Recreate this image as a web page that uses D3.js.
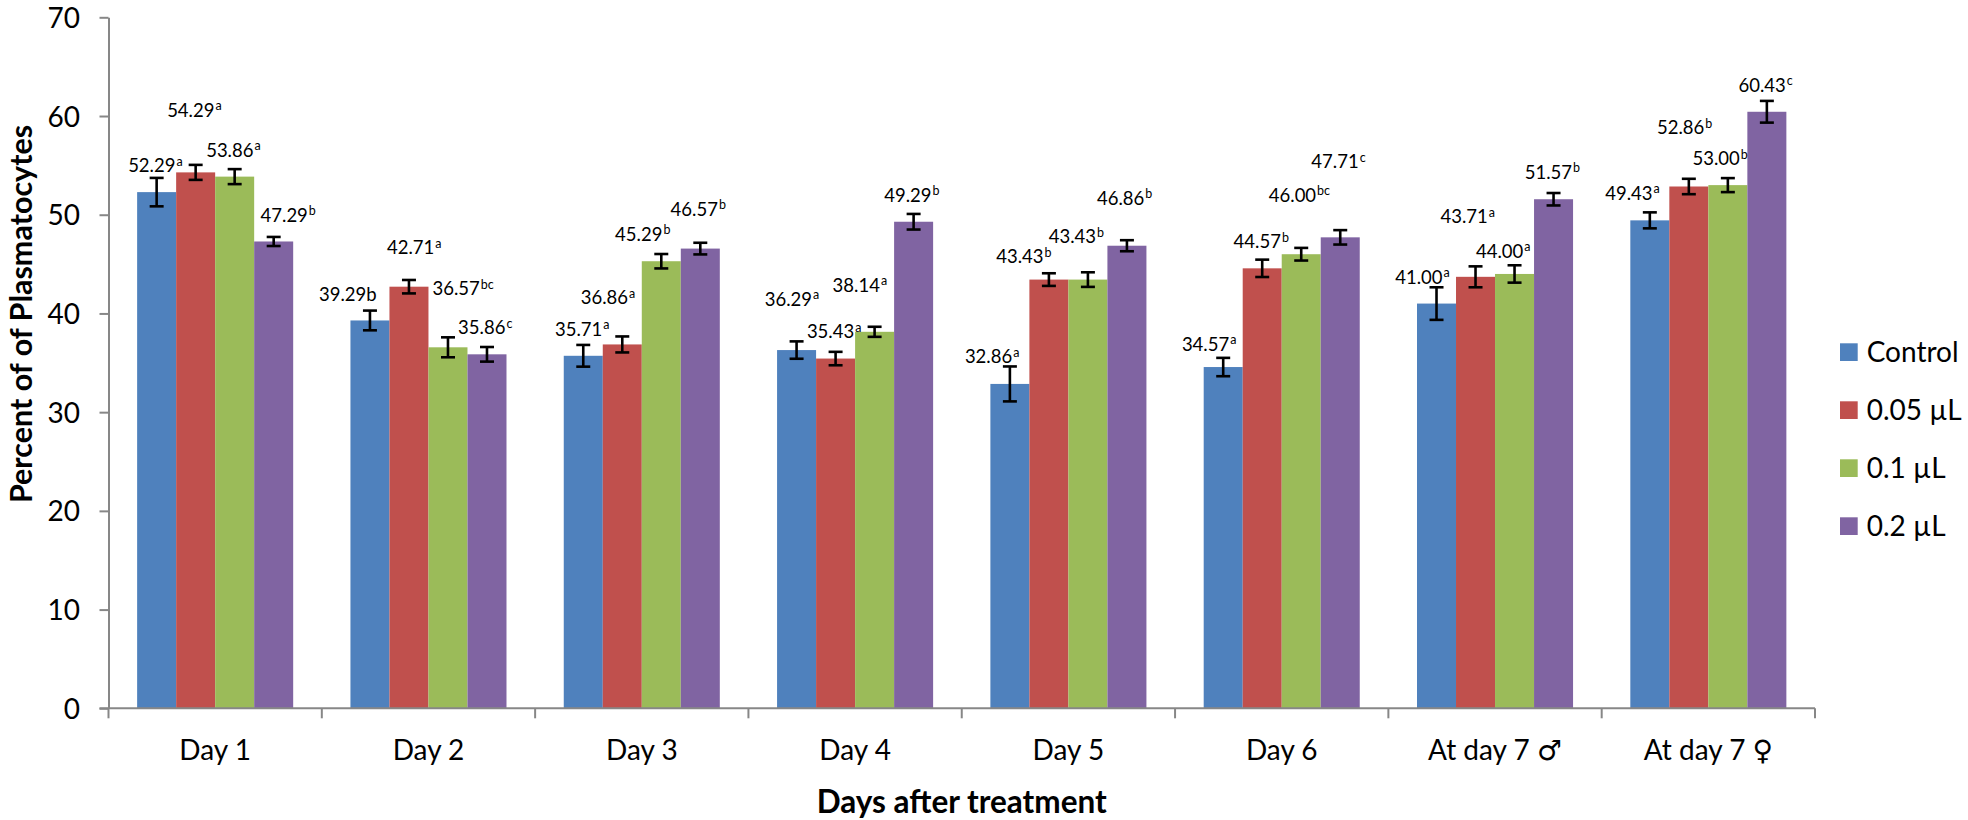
<!DOCTYPE html>
<html>
<head>
<meta charset="utf-8">
<script src="https://cdn.jsdelivr.net/npm/d3@7"></script>
<style>
  html, body { margin: 0; padding: 0; background: #fff; }
  svg { display: block; }
  text { font-family: Lato, "Open Sans", "DejaVu Sans", sans-serif; fill: #000; }
</style>
</head>
<body>
<svg id="chart" width="1968" height="820"></svg>
<script>
// ---------------- data ----------------
const categories = ["Day 1", "Day 2", "Day 3", "Day 4", "Day 5", "Day 6", "At day 7 \u2642", "At day 7 \u2640"];
const seriesNames = ["Control", "0.05 \u00B5L", "0.1 \u00B5L", "0.2 \u00B5L"];
const yTicks = [0, 10, 20, 30, 40, 50, 60, 70];

const controlValues = [52.29, 39.29, 35.71, 36.29, 32.86, 34.57, 41.00, 49.43];
const dose005Values = [54.29, 42.71, 36.86, 35.43, 43.43, 44.57, 43.71, 52.86];
const dose01Values  = [53.86, 36.57, 45.29, 38.14, 43.43, 46.00, 44.00, 53.00];
const dose02Values  = [47.29, 35.86, 46.57, 49.29, 46.86, 47.71, 51.57, 60.43];

const controlErr = [1.44, 1.00, 1.10, 0.88, 1.77, 0.93, 1.65, 0.81];
const dose005Err = [0.76, 0.68, 0.81, 0.68, 0.64, 0.88, 1.06, 0.78];
const dose01Err  = [0.76, 1.01, 0.73, 0.51, 0.74, 0.64, 0.88, 0.71];
const dose02Err  = [0.46, 0.74, 0.59, 0.79, 0.56, 0.73, 0.63, 1.10];

const controlSig = ["a", "b", "a", "a", "a", "a", "a", "a"];
const dose005Sig = ["a", "a", "a", "a", "b", "b", "a", "b"];
const dose01Sig  = ["a", "bc", "b", "a", "b", "bc", "a", "b"];
const dose02Sig  = ["b", "c", "b", "b", "b", "c", "b", "c"];
// letters printed at normal size (not superscript): [series, category]
const inlineSig = [[0, 1]];

// ---------------- layout (manually moved data labels, px from bar centre/top) ----------------
const labelOffsets = [
  [[-28.5,-19.8],[-51,-19.5],[-28.3,-19.8],[-31.8,-44.1],[-45,-20.6],[-41.3,-16.1],[-41.3,-19.6],[-44.6,-20.4]],
  [[-28.5,-55.7],[-22,-32.4],[-41.6,-40.2],[-28.7,-20.3],[-52.6,-16.3],[-28.6,-20],[-35.1,-53.5],[-31.9,-52.2]],
  [[-28.5,-19.9],[-15.5,-52.3],[-46.2,-20.5],[-42,-40.1],[-39.1,-36.3],[-32.4,-52.5],[-38.6,-16.3],[-35.3,-20.1]],
  [[-13.1,-19.8],[-28.9,-20],[-29.7,-32.6],[-29.4,-20.1],[-29.9,-40.8],[-28.9,-69.1],[-28.8,-20.3],[-28.3,-20.1]]
];

const seriesValues = [controlValues, dose005Values, dose01Values, dose02Values];
const seriesErr = [controlErr, dose005Err, dose01Err, dose02Err];
const seriesSig = [controlSig, dose005Sig, dose01Sig, dose02Sig];
const colors = ["#4F81BD", "#C0504D", "#9BBB59", "#8064A2"];

const table = [];
seriesNames.forEach((s, si) => {
  categories.forEach((c, ci) => {
    table.push({
      series: s, si, cat: c, ci,
      value: seriesValues[si][ci],
      err: seriesErr[si][ci],
      sig: seriesSig[si][ci],
      inline: inlineSig.some(p => p[0] === si && p[1] === ci),
      off: labelOffsets[si][ci]
    });
  });
});

// ---------------- chart ----------------
const svg = d3.select("#chart");
const plot = { left: 108.5, right: 1815, top: 17.3, bottom: 708.3 };
const axisColor = "#878787";

const x0 = d3.scaleBand().domain(categories).range([plot.left, plot.right]).padding(0);
const x1 = d3.scaleBand().domain(seriesNames).range([0, x0.bandwidth()]).paddingInner(0).paddingOuter(0.734);
const y = d3.scaleLinear().domain([0, 70]).range([plot.bottom, plot.top]);

// bars
svg.append("g").selectAll("rect").data(table).join("rect")
  .attr("x", d => x0(d.cat) + x1(d.series))
  .attr("y", d => y(d.value))
  .attr("width", x1.bandwidth())
  .attr("height", d => y(0) - y(d.value))
  .attr("fill", d => colors[d.si]);

// y axis
const yAxis = svg.append("g")
  .attr("transform", `translate(${plot.left},0)`)
  .call(d3.axisLeft(y).tickValues(yTicks).tickSize(9).tickSizeOuter(0).tickPadding(19.5));
yAxis.select(".domain").attr("stroke", axisColor).attr("stroke-width", 2);
yAxis.selectAll(".tick line").attr("stroke", axisColor).attr("stroke-width", 2);
yAxis.selectAll(".tick text").attr("font-size", 28).attr("dy", "0.36em")
  .style("font-family", "Lato, 'Open Sans', sans-serif").attr("fill", "#000");

// x axis line + boundary ticks
const xg = svg.append("g");
xg.append("line")
  .attr("x1", x0.range()[0] - 9).attr("x2", x0.range()[1])
  .attr("y1", y(0)).attr("y2", y(0))
  .attr("stroke", axisColor).attr("stroke-width", 2);
const bounds = categories.map(c => x0(c)).concat([x0.range()[1]]);
xg.selectAll("line.bt").data(bounds).join("line").attr("class", "bt")
  .attr("x1", d => d).attr("x2", d => d)
  .attr("y1", y(0)).attr("y2", y(0) + 10)
  .attr("stroke", axisColor).attr("stroke-width", 2);

const xAxis = svg.append("g")
  .attr("transform", `translate(0,${y(0)})`)
  .call(d3.axisBottom(x0).tickSize(0).tickPadding(31.8));
xAxis.select(".domain").remove();
xAxis.selectAll(".tick text").attr("font-size", 28)
  .style("font-family", "Lato, 'DejaVu Sans', sans-serif").attr("fill", "#000");

// error bars
const eg = svg.append("g").attr("stroke", "#000").attr("stroke-width", 2.6);
const cx = d => x0(d.cat) + x1(d.series) + x1.bandwidth() / 2;
eg.selectAll("line.v").data(table).join("line").attr("class", "v")
  .attr("x1", cx).attr("x2", cx)
  .attr("y1", d => y(d.value + d.err)).attr("y2", d => y(d.value - d.err));
eg.selectAll("line.t").data(table).join("line").attr("class", "t")
  .attr("x1", d => cx(d) - 7).attr("x2", d => cx(d) + 7)
  .attr("y1", d => y(d.value + d.err)).attr("y2", d => y(d.value + d.err));
eg.selectAll("line.b").data(table).join("line").attr("class", "b")
  .attr("x1", d => cx(d) - 7).attr("x2", d => cx(d) + 7)
  .attr("y1", d => y(d.value - d.err)).attr("y2", d => y(d.value - d.err));

// data labels
const lg = svg.append("g");
const lbl = lg.selectAll("text").data(table).join("text")
  .attr("x", d => cx(d) + d.off[0])
  .attr("y", d => y(d.value) + d.off[1])
  .attr("font-size", 18.5);
lbl.append("tspan").text(d => d.value.toFixed(2));
lbl.append("tspan")
  .attr("font-size", d => d.inline ? 18.5 : 12.5)
  .attr("dy", d => d.inline ? 0 : -6.5)
  .attr("dx", d => d.inline ? 0 : 1)
  .text(d => d.sig);

// axis titles
svg.append("text")
  .attr("x", (plot.left + plot.right) / 2).attr("y", 813)
  .attr("text-anchor", "middle").attr("font-size", 31.5).attr("font-weight", "bold")
  .text("Days after treatment");
svg.append("text")
  .attr("transform", "translate(31.5,314) rotate(-90)")
  .attr("text-anchor", "middle").attr("font-size", 30.5).attr("font-weight", "bold")
  .text("Percent of of Plasmatocytes");

// legend
const leg = svg.append("g").selectAll("g").data(seriesNames).join("g")
  .attr("transform", (d, i) => `translate(1840,${343.3 + i * 58})`);
leg.append("rect").attr("width", 17.7).attr("height", 17.7).attr("fill", (d, i) => colors[i]);
leg.append("text").attr("x", 26.7).attr("y", 18.5).attr("font-size", 28).text(d => d);
</script>
</body>
</html>
